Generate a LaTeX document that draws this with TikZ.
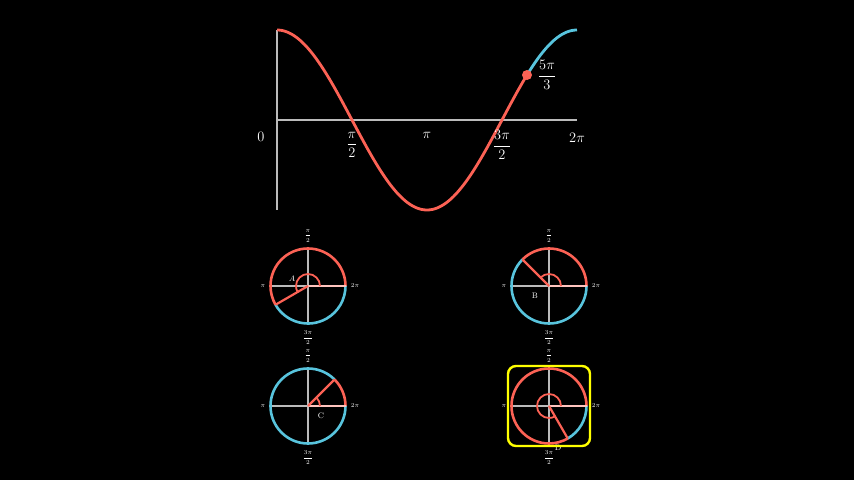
\documentclass[tikz,border=0pt]{standalone}
\usepackage{amsmath}
\definecolor{mred}{HTML}{FC6255}
\definecolor{mblue}{HTML}{58C4DD}
\definecolor{mgray}{HTML}{BBBBBB}
\definecolor{mpink}{HTML}{FFC4BE}
\definecolor{myellow}{HTML}{FFFF00}
\tikzset{
  axisline/.style={draw=mgray, line width=1.8pt},
  cirgray/.style={draw=mgray, line width=1.6pt},
  curvered/.style={draw=mred, line width=2.8pt},
  curveblue/.style={draw=mblue, line width=2.8pt},
  ringred/.style={draw=mred, line width=2.6pt},
  ringblue/.style={draw=mblue, line width=2.6pt},
  radline/.style={draw=mred, line width=2.2pt},
  zeroline/.style={draw=mpink, line width=2.2pt},
  anglearc/.style={draw=mred, line width=1.8pt},
  biglabel/.style={text=white, font=\fontsize{14}{16}\selectfont, inner sep=0pt},
  smalllabel/.style={text=white, font=\fontsize{6.5}{7.5}\selectfont, inner sep=0pt},
  letterlabel/.style={text=white, font=\fontsize{8}{9}\selectfont, inner sep=0pt},
  hlbox/.style={draw=myellow, line width=2.4pt, rounded corners=8pt}
}
\newcommand{\unitcircle}[5]{%
  % #1 name, #2 center, #3 angle, #4 label, #5 label offset
  \begin{scope}[shift={#2}]
    \draw[cirgray] (-37.5,0) -- (0,0);
    \draw[cirgray] (0,-37.5) -- (0,37.5);
    \draw[ringred] (37.5,0) arc[start angle=0, end angle=#3, radius=37.5];
    \draw[ringblue] (#3:37.5) arc[start angle=#3, end angle=360, radius=37.5];
    \draw[zeroline] (0,0) -- (37.5,0);
    \draw[radline] (0,0) -- (#3:37.5);
    \draw[anglearc] (12,0) arc[start angle=0, end angle=#3, radius=12];
    \node[smalllabel] (#1top) at (0,50) {$\dfrac{\pi}{2}$};
    \node[smalllabel] (#1bot) at (0,-52) {$\dfrac{3\pi}{2}$};
    \node[smalllabel] (#1left) at (-45,0) {$\pi$};
    \node[smalllabel] (#1right) at (47,0) {$2\pi$};
    \node[letterlabel] (#1lab) at #5 {#4};
  \end{scope}}
\begin{document}
\begin{tikzpicture}[x=1pt,y=1pt]
  \fill[black] (0,0) rectangle (854,480);
  \useasboundingbox (0,0) rectangle (854,480);
  % top graph
  \draw[axisline] (277,450) -- (277,270);
  \draw[axisline] (277,360) -- (577,360);
  \draw[curvered] plot[domain=0:300, samples=120, smooth] ({277+\x/1.2},{360+90*cos(\x)});
  \draw[curveblue] plot[domain=300:360, samples=30, smooth] ({277+\x/1.2},{360+90*cos(\x)});
  \fill[mred] (527,405) circle (5);
  \node[biglabel] (l0) at (261,343) {$0$};
  \node[biglabel] (l1) at (352,335) {$\dfrac{\pi}{2}$};
  \node[biglabel] (l2) at (427,345) {$\pi$};
  \node[biglabel] (l3) at (502,335) {$\dfrac{3\pi}{2}$};
  \node[biglabel] (l4) at (577,342) {$2\pi$};
  \node[biglabel] (l5) at (547,405) {$\dfrac{5\pi}{3}$};
  % unit circles
  \unitcircle{a}{(308,194)}{210}{$A$}{(-16,7)}
  \unitcircle{b}{(549,194)}{135}{B}{(-14,-10)}
  \unitcircle{c}{(308,74)}{45}{C}{(13,-10)}
  \unitcircle{d}{(549,74)}{300}{D}{(9,-42)}
  \draw[hlbox] (508,34) rectangle (590,114);
\end{tikzpicture}
\end{document}
